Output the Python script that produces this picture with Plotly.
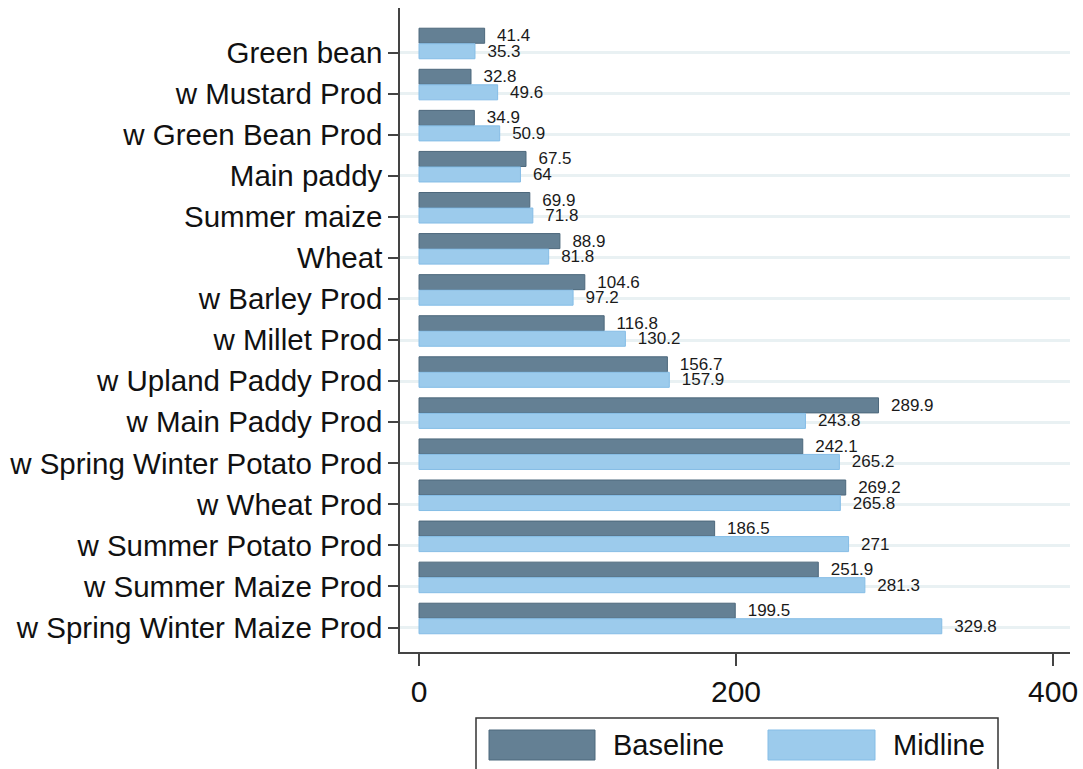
import plotly.graph_objects as go

categories = ["Green bean", "w Mustard Prod", "w Green Bean Prod", "Main paddy",
              "Summer maize", "Wheat", "w Barley Prod", "w Millet Prod",
              "w Upland Paddy Prod", "w Main Paddy Prod", "w Spring Winter Potato Prod",
              "w Wheat Prod", "w Summer Potato Prod", "w Summer Maize Prod",
              "w Spring Winter Maize Prod"]
baseline = [41.4, 32.8, 34.9, 67.5, 69.9, 88.9, 104.6, 116.8, 156.7, 289.9,
            242.1, 269.2, 186.5, 251.9, 199.5]
midline = [35.3, 49.6, 50.9, 64, 71.8, 81.8, 97.2, 130.2, 157.9, 243.8,
           265.2, 265.8, 271, 281.3, 329.8]
x_ticks = [0, 200, 400]

FONT = "Arial, Liberation Sans, sans-serif"
C_BASE = "#648094"
C_MID = "#9ccbec"

pos = list(range(len(categories)))
NB = "\u00a0\u00a0"

fig = go.Figure()
fig.add_trace(go.Bar(
    y=pos, x=baseline, orientation="h", name="Baseline",
    marker=dict(color=C_BASE, line=dict(color="#4d687c", width=1)),
    text=[NB + f"{v:g}" for v in baseline], textposition="outside",
    constraintext="none",
    textfont=dict(family=FONT, size=17, color="#1a1a1a"), cliponaxis=False,
))
fig.add_trace(go.Bar(
    y=pos, x=midline, orientation="h", name="Midline",
    marker=dict(color=C_MID, line=dict(color="#85bde6", width=1)),
    text=[NB + f"{v:g}" for v in midline], textposition="outside",
    constraintext="none",
    textfont=dict(family=FONT, size=17, color="#1a1a1a"), cliponaxis=False,
))

fig.update_layout(
    width=1083, height=769,
    margin=dict(l=400, r=13, t=8, b=117, autoexpand=False),
    paper_bgcolor="white", plot_bgcolor="white",
    barmode="group", bargap=0.245, bargroupgap=0.03,
    showlegend=False,
    font=dict(family=FONT, color="#1a1a1a"),
)
fig.update_yaxes(
    range=[14.816, -0.864], automargin=False,
    tickmode="array", tickvals=[p + 0.22 for p in pos], ticktext=categories,
    tickfont=dict(family=FONT, size=29.5, color="#111111"),
    ticks="outside", ticklen=10, tickcolor="#444444", tickwidth=1.5,
    showgrid=True, gridcolor="#e9f1f3", gridwidth=3,
    showline=True, linecolor="#444444", linewidth=1.5,
    zeroline=False, ticklabelstandoff=0,
)
fig.update_xaxes(
    range=[-12, 410.7], automargin=False,
    tickmode="array", tickvals=x_ticks, ticktext=[str(t) for t in x_ticks],
    tickfont=dict(family=FONT, size=30, color="#111111"),
    ticks="outside", ticklen=12, tickcolor="#444444", tickwidth=1.5,
    showgrid=False, zeroline=False,
    showline=True, linecolor="#444444", linewidth=1.5,
)

# custom legend (Stata style) in paper coordinates
def px_x(px):
    return (px - 400) / 670.0

def px_y(py):
    return (652 - py) / 644.0

fig.add_shape(type="rect", xref="paper", yref="paper",
              x0=px_x(476), x1=px_x(998), y0=px_y(780), y1=px_y(718),
              line=dict(color="#333333", width=1.5), fillcolor="white")
fig.add_shape(type="rect", xref="paper", yref="paper",
              x0=px_x(489), x1=px_x(595), y0=px_y(760), y1=px_y(730),
              line=dict(color="#4d687c", width=1), fillcolor=C_BASE)
fig.add_shape(type="rect", xref="paper", yref="paper",
              x0=px_x(768), x1=px_x(875), y0=px_y(760), y1=px_y(730),
              line=dict(color="#85bde6", width=1), fillcolor=C_MID)
fig.add_annotation(xref="paper", yref="paper", x=px_x(611), y=px_y(745),
                   text="Baseline", showarrow=False, xanchor="left", yanchor="middle",
                   font=dict(family=FONT, size=29, color="#111111"))
fig.add_annotation(xref="paper", yref="paper", x=px_x(891), y=px_y(745),
                   text="Midline", showarrow=False, xanchor="left", yanchor="middle",
                   font=dict(family=FONT, size=29, color="#111111"))

fig.write_html("out.html", config={"displayModeBar": False},
               post_script="document.body.style.margin='0';document.body.style.overflow='hidden';")
